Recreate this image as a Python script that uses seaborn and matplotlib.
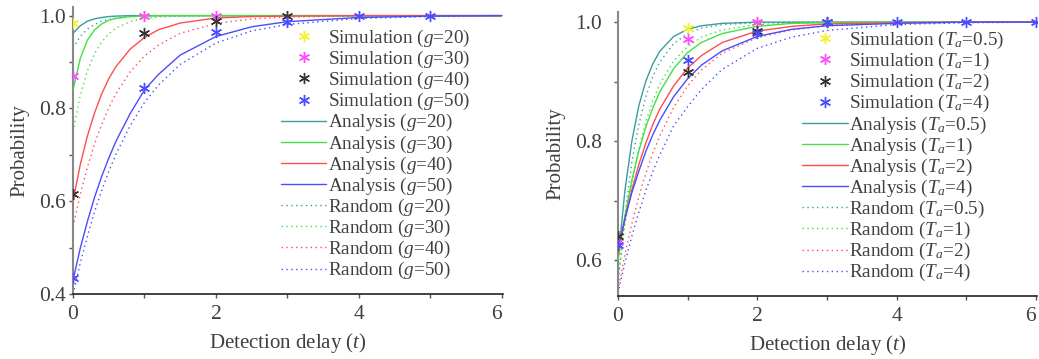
import matplotlib
matplotlib.use('Agg')
import matplotlib.pyplot as plt
import seaborn as sns
from matplotlib.ticker import MultipleLocator, FormatStrFormatter

# detection delay grid used by the analysis / random curves
delay = [0, 0.1, 0.2, 0.3, 0.4, 0.5, 0.6, 0.8, 1.0, 1.2, 1.5, 2.0, 2.5, 3.0, 4.0, 5.0, 6.0]

# ---- left panel: different g ----
ana_g20 = [0.962, 0.978, 0.988, 0.993, 0.996, 0.998, 0.999, 1.0, 1.0, 1.0, 1.0, 1.0, 1.0, 1.0, 1.0, 1.0, 1.0]
ana_g30 = [0.840, 0.907, 0.947, 0.969, 0.982, 0.990, 0.994, 0.998, 0.999, 1.0, 1.0, 1.0, 1.0, 1.0, 1.0, 1.0, 1.0]
ana_g40 = [0.600, 0.678, 0.740, 0.790, 0.831, 0.864, 0.890, 0.928, 0.953, 0.970, 0.984, 0.995, 0.998, 0.999, 1.0, 1.0, 1.0]
ana_g50 = [0.430, 0.498, 0.556, 0.608, 0.653, 0.693, 0.729, 0.789, 0.840, 0.874, 0.915, 0.955, 0.976, 0.987, 0.996, 0.999, 1.0]

rnd_g20 = [0.930, 0.955, 0.971, 0.981, 0.988, 0.992, 0.995, 0.998, 0.999, 1.0, 1.0, 1.0, 1.0, 1.0, 1.0, 1.0, 1.0]
rnd_g30 = [0.750, 0.827, 0.881, 0.918, 0.943, 0.961, 0.973, 0.987, 0.994, 0.997, 0.999, 1.0, 1.0, 1.0, 1.0, 1.0, 1.0]
rnd_g40 = [0.545, 0.614, 0.673, 0.723, 0.765, 0.801, 0.832, 0.879, 0.913, 0.937, 0.962, 0.983, 0.993, 0.997, 0.999, 1.0, 1.0]
rnd_g50 = [0.400, 0.466, 0.524, 0.577, 0.623, 0.664, 0.701, 0.763, 0.813, 0.851, 0.895, 0.941, 0.967, 0.981, 0.994, 0.998, 0.999]

sim_g20_t = [0, 1]
sim_g20 = [0.985, 1.0]
sim_g30_t = [0, 1, 2]
sim_g30 = [0.87, 1.0, 1.0]
sim_g40_t = [0, 1, 2, 3]
sim_g40 = [0.615, 0.962, 0.989, 1.0]
sim_g50_t = [0, 1, 2, 3, 4, 5]
sim_g50 = [0.435, 0.843, 0.964, 0.986, 1.0, 1.0]

# ---- right panel: different T_a ----
ana_t05 = [0.600, 0.718, 0.801, 0.860, 0.901, 0.930, 0.951, 0.976, 0.988, 0.994, 0.998, 1.0, 1.0, 1.0, 1.0, 1.0, 1.0]
ana_t1 = [0.600, 0.675, 0.735, 0.784, 0.824, 0.856, 0.883, 0.922, 0.949, 0.966, 0.981, 0.993, 0.998, 0.999, 1.0, 1.0, 1.0]
ana_t2 = [0.610, 0.669, 0.719, 0.761, 0.797, 0.828, 0.854, 0.893, 0.923, 0.944, 0.966, 0.985, 0.993, 0.997, 0.999, 1.0, 1.0]
ana_t4 = [0.620, 0.670, 0.714, 0.750, 0.783, 0.811, 0.835, 0.875, 0.905, 0.928, 0.952, 0.976, 0.988, 0.994, 0.998, 1.0, 1.0]

rnd_t05 = [0.560, 0.676, 0.766, 0.828, 0.875, 0.909, 0.933, 0.964, 0.981, 0.990, 0.996, 0.999, 1.0, 1.0, 1.0, 1.0, 1.0]
rnd_t1 = [0.570, 0.660, 0.731, 0.788, 0.833, 0.868, 0.896, 0.935, 0.959, 0.975, 0.987, 0.996, 0.999, 1.0, 1.0, 1.0, 1.0]
rnd_t2 = [0.550, 0.610, 0.662, 0.707, 0.746, 0.780, 0.809, 0.857, 0.893, 0.920, 0.948, 0.974, 0.987, 0.994, 0.998, 1.0, 1.0]
rnd_t4 = [0.545, 0.596, 0.641, 0.681, 0.717, 0.749, 0.777, 0.826, 0.858, 0.887, 0.921, 0.956, 0.975, 0.986, 0.996, 0.999, 1.0]

sim_t05_t = [0, 1, 2]
sim_t05 = [0.64, 0.99, 1.0]
sim_t1_t = [0, 1, 2]
sim_t1 = [0.63, 0.972, 1.0]
sim_t2_t = [0, 1, 2, 3]
sim_t2 = [0.64, 0.916, 0.985, 1.0]
sim_t4_t = [0, 1, 2, 3, 4, 5, 6]
sim_t4 = [0.625, 0.937, 0.982, 1.0, 1.0, 1.0, 1.0]

g_labels = ['20', '30', '40', '50']
ta_labels = ['0.5', '1', '2', '4']
x_ticks = [0, 2, 4, 6]

line_colors = ['#3a9d9d', '#44e044', '#ff4c4c', '#4c4cff']
sim_colors = ['#f2f22a', '#ff4cff', '#333333', '#4c4cff']

sns.set_style('ticks')
plt.rcParams['font.family'] = ['Liberation Serif', 'DejaVu Serif']
plt.rcParams['mathtext.fontset'] = 'custom'
plt.rcParams['mathtext.rm'] = 'Liberation Serif'
plt.rcParams['mathtext.it'] = 'Liberation Serif:italic'
text_color = '#404040'

fig = plt.figure(figsize=(10.39, 3.59), dpi=100)
ax1 = fig.add_axes([0.0703, 0.181, 0.414, 0.80])
ax2 = fig.add_axes([0.5948, 0.1755, 0.4035, 0.791])

asterisk = (6, 2, 0)


def draw_panel(ax, sims, anas, rnds, names, fmt, ypad):
    for (st, sv), c, n in zip(sims, sim_colors, names):
        ax.plot(st, sv, ls='none', marker=asterisk, ms=8, mew=1.0, color=c,
                label='Simulation (' + fmt + '=' + n + ')', zorder=5)
    for yv, c, n in zip(anas, line_colors, names):
        sns.lineplot(x=delay, y=yv, ax=ax, color=c, lw=1.0,
                     label='Analysis (' + fmt + '=' + n + ')', zorder=3)
    for yv, c, n in zip(rnds, line_colors, names):
        sns.lineplot(x=delay, y=yv, ax=ax, color=c, lw=1.0, linestyle=(0, (1, 2.5)),
                     label='Random (' + fmt + '=' + n + ')', zorder=2)
    ax.set_xlim(0, 6.02)
    ax.set_xticks(x_ticks)
    ax.xaxis.set_minor_locator(MultipleLocator(1))
    ax.yaxis.set_major_locator(MultipleLocator(0.2))
    ax.yaxis.set_minor_locator(MultipleLocator(0.1))
    ax.yaxis.set_major_formatter(FormatStrFormatter('%.1f'))
    ax.tick_params(which='both', direction='out', length=3, width=1, colors='#555555',
                   labelsize=15.5, labelcolor=text_color)
    ax.tick_params(axis='x', pad=5)
    ax.tick_params(axis='y', pad=ypad)
    for s in ['top', 'right']:
        ax.spines[s].set_visible(False)
    ax.spines['left'].set_color('#888888')
    ax.spines['bottom'].set_color('#222222')
    ax.spines['left'].set_linewidth(1.5)
    ax.spines['bottom'].set_linewidth(1.2)
    ax.set_xlabel('Detection delay ($t$)', fontsize=15, color=text_color, labelpad=5)
    ax.set_ylabel('Probability', fontsize=15, color=text_color, labelpad=7)


legend_kw = dict(loc='upper left', frameon=False, fontsize=13.8, labelspacing=0,
                 handlelength=2.35, handletextpad=0.1, borderpad=0, borderaxespad=0,
                 labelcolor=text_color)

draw_panel(ax1,
           [(sim_g20_t, sim_g20), (sim_g30_t, sim_g30), (sim_g40_t, sim_g40), (sim_g50_t, sim_g50)],
           [ana_g20, ana_g30, ana_g40, ana_g50],
           [rnd_g20, rnd_g30, rnd_g40, rnd_g50],
           g_labels, '$g$', 2)
ax1.set_ylim(0.4, 1.019)
ax1.legend(bbox_to_anchor=(0.484, 0.927), **legend_kw)

draw_panel(ax2,
           [(sim_t05_t, sim_t05), (sim_t1_t, sim_t1), (sim_t2_t, sim_t2), (sim_t4_t, sim_t4)],
           [ana_t05, ana_t1, ana_t2, ana_t4],
           [rnd_t05, rnd_t1, rnd_t2, rnd_t4],
           ta_labels, '$T_a$', 8.5)
ax2.set_ylim(0.54, 1.017)
ax2.legend(bbox_to_anchor=(0.44, 0.937), **legend_kw)

# last x tick label sits just left of its tick, as in the original
for ax in (ax1, ax2):
    ax.get_xticklabels()[-1].set_horizontalalignment('right')

fig.savefig('out.png', dpi=100)
